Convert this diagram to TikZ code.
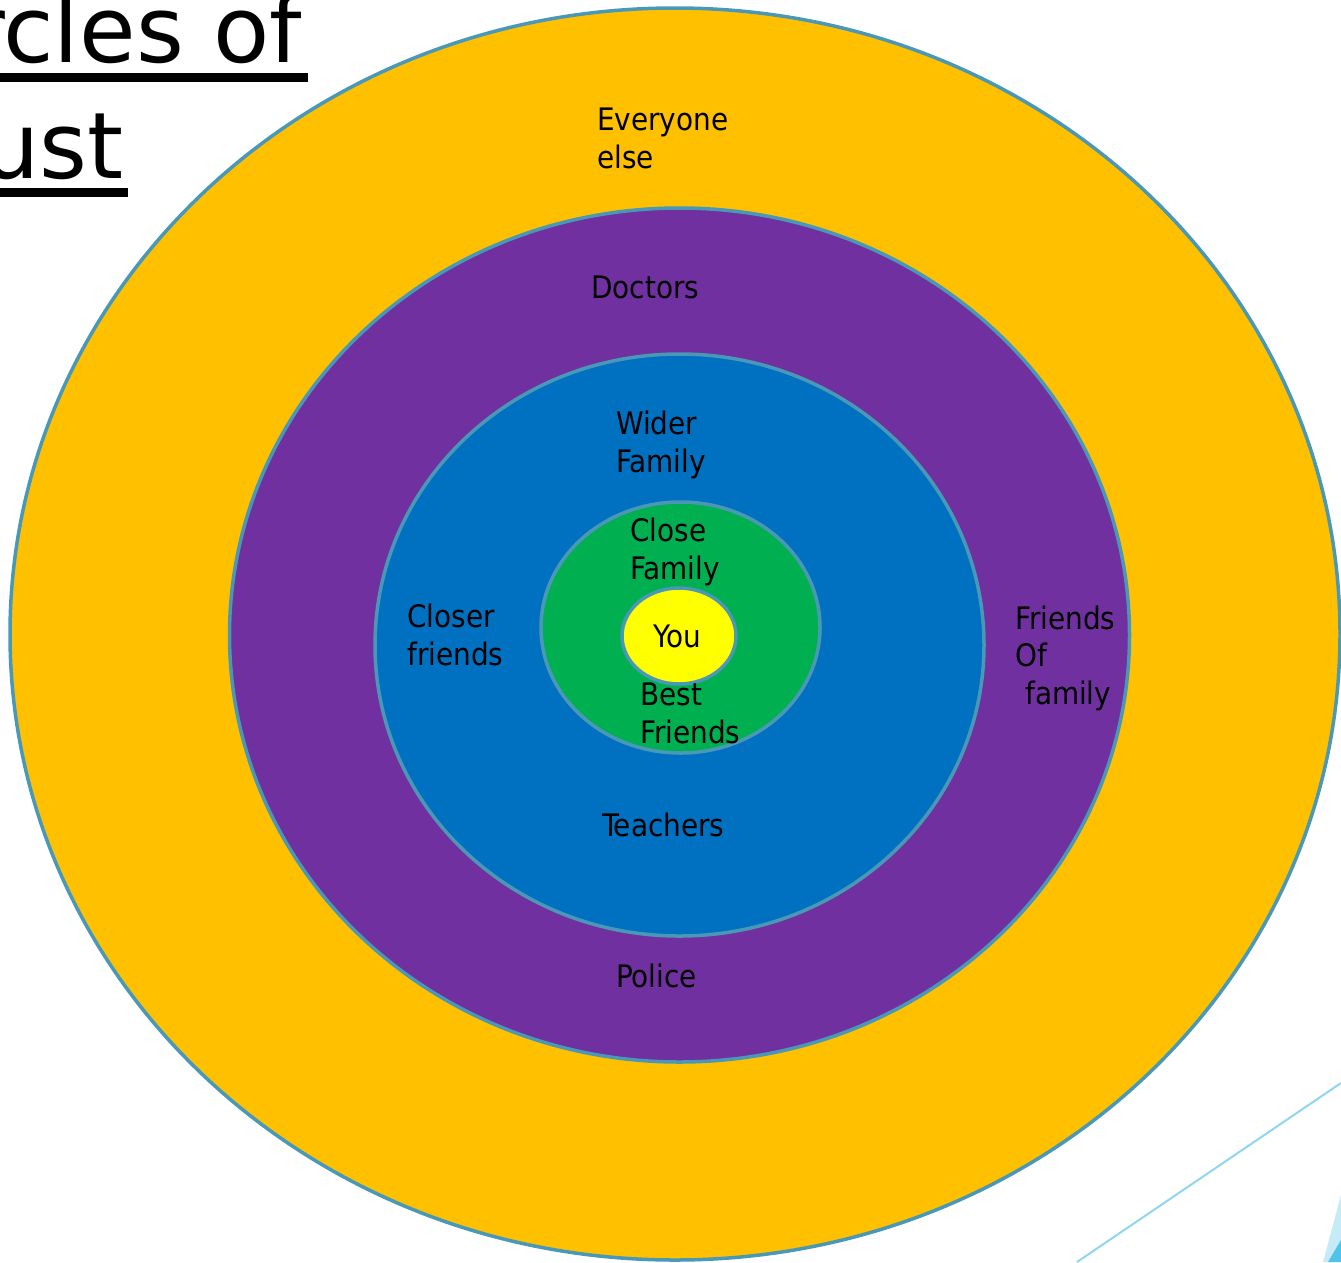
\documentclass[tikz,border=0pt]{standalone}
\usepackage{fontspec}
\setmainfont{DejaVu Sans Condensed}
\newfontfamily\titlefont{DejaVu Sans}
\definecolor{ringline}{HTML}{4A98B8}
\definecolor{outerring}{HTML}{FFC000}
\definecolor{purplering}{HTML}{7030A0}
\definecolor{bluering}{HTML}{0070C0}
\definecolor{greenring}{HTML}{00B050}
\definecolor{youfill}{HTML}{FFFF00}
\definecolor{accentlight}{HTML}{C5EBF8}
\definecolor{accentdark}{HTML}{4FC3EA}
\definecolor{accentline}{HTML}{8FD6F0}

\begin{document}
\begin{tikzpicture}[x=1pt, y=-1pt,
    ring/.style={draw=ringline, line width=3.5pt},
    lbl/.style={anchor=base west, align=left, inner sep=0pt, font=\fontsize{31}{37.5}\selectfont},
    heading/.style={anchor=base east, inner sep=0pt, font=\titlefont\fontsize{92}{96}\selectfont}]
    \useasboundingbox (0,0) rectangle (1341,1262);
    \clip (0,0) rectangle (1341,1262);

    % circles of trust, outside in
    \draw[ring, fill=outerring] (675,634) ellipse [x radius=665, y radius=626];
    \draw[ring, fill=purplering] (679.5,635) ellipse [x radius=450, y radius=427];
    \draw[ring, fill=bluering] (679.5,645) ellipse [x radius=304.5, y radius=291];
    \draw[ring, fill=greenring] (680.5,627.5) ellipse [x radius=139.5, y radius=125.5];
    \draw[ring, fill=youfill] (679,636) ellipse [x radius=57, y radius=48];

    % corner decoration
    \fill[accentlight] (1341,1195) -- (1323,1262) -- (1341,1262) -- cycle;
    \fill[accentdark] (1341,1240) -- (1328,1262) -- (1341,1262) -- cycle;
    \coordinate (d1) at (1077,1262);
    \coordinate (d2) at (1341,1083);
    \draw[accentline, line width=2pt] (d1) -- (d2);

    % title
    \node[heading] (titleA) at (302,62) {Circles of};
    \node[heading] (titleB) at (124,178) {Trust};
    \draw[line width=9pt] (-10,77.5) -- (308,77.5);
    \draw[line width=9pt] (-10,192.5) -- (128,192.5);

    % labels (base = last line)
    \node[lbl] (everyone) at (597,168) {Everyone\\else};
    \node[lbl] (doctors) at (591,298) {Doctors};
    \node[lbl] (wider) at (616,472) {Wider\\Family};
    \node[lbl] (close) at (630,579) {Close\\Family};
    \node[lbl] (you) at (653,647) {You};
    \node[lbl] (best) at (640,743) {Best\\Friends};
    \node[lbl] (closer) at (407,665) {Closer\\friends};
    \node[lbl] (fof) at (1015,704) {Friends\\Of\\\hspace{10pt}family};
    \node[lbl] (teachers) at (602,836) {Teachers};
    \node[lbl] (police) at (616,987) {Police};
\end{tikzpicture}
\end{document}
